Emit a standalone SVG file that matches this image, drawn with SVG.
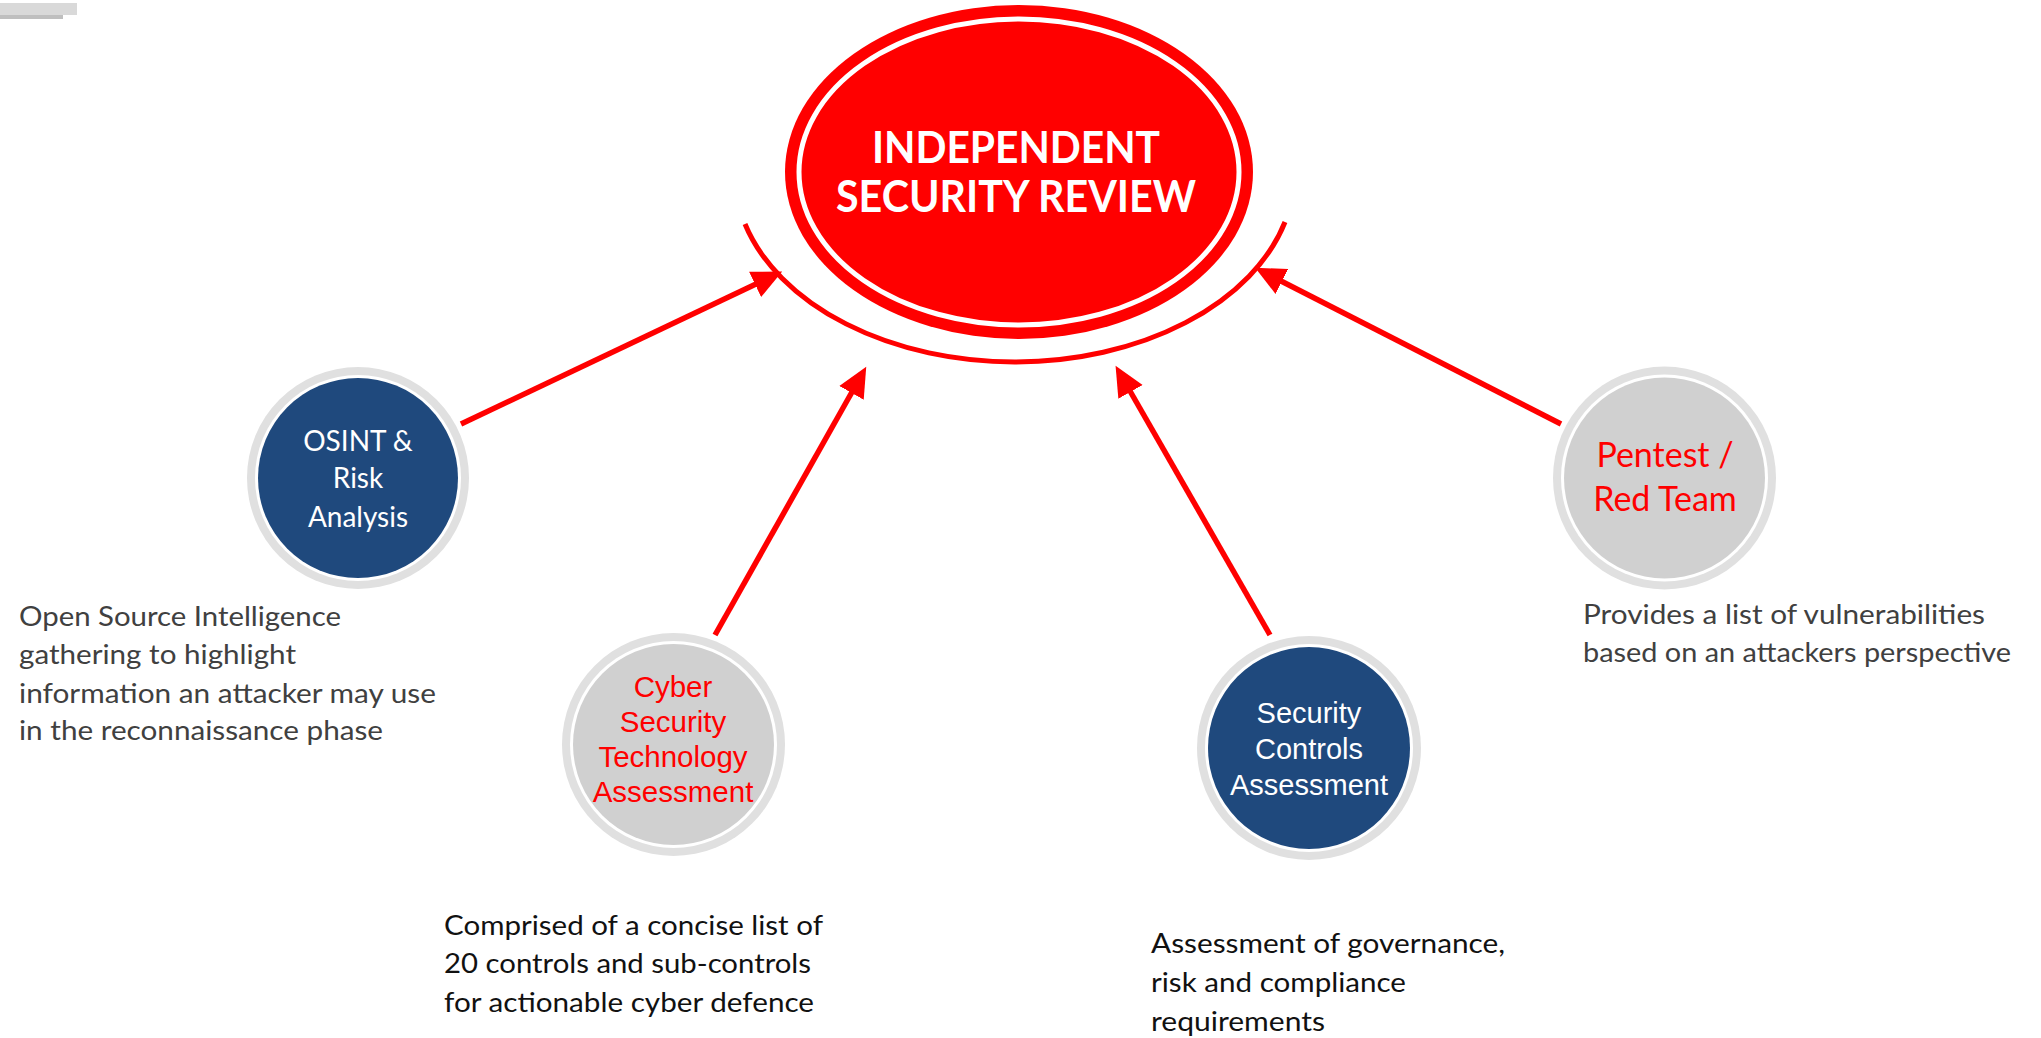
<svg xmlns="http://www.w3.org/2000/svg" width="2041" height="1038" viewBox="0 0 2041 1038">
<style>
.ring{fill:#e0e0e0}
.gap{fill:#ffffff}
.blue{fill:#1f497d}
.grey{fill:#d0d0d0}
.cal{font-family:Lato,"Open Sans","Liberation Sans",sans-serif}
.ari{font-family:"Liberation Sans",Arial,sans-serif}
.desc{font-family:Lato,"Open Sans","Liberation Sans",sans-serif;font-size:27px;fill:#404040}
.desc2{font-family:Lato,"Open Sans","Liberation Sans",sans-serif;font-size:27px;fill:#111111}
.conn{stroke:#ff0000;stroke-width:5.5;fill:none;marker-end:url(#ah)}
</style>
<defs>
<marker id="ah" markerUnits="userSpaceOnUse" viewBox="0 -15 31 30" markerWidth="31" markerHeight="30" refX="1" refY="0" orient="auto">
<path d="M0,-14 L30,0 L0,14 z" fill="#ff0000"/>
</marker>
</defs>
<rect x="0" y="3" width="77" height="12" fill="#d9d9d9"/>
<rect x="0" y="15" width="63" height="4" fill="#bfbfbf"/>

<g id="connectors">
<line class="conn" x1="461" y1="424" x2="756" y2="284"/>
<line class="conn" x1="715" y1="635" x2="852" y2="392"/>
<line class="conn" x1="1270" y1="635" x2="1130" y2="391"/>
<line class="conn" x1="1561" y1="424" x2="1281" y2="281"/>
</g>

<g id="review">
<ellipse cx="1019" cy="172" rx="234" ry="167" fill="#ff0000"/>
<ellipse cx="1019" cy="172" rx="220" ry="153" fill="none" stroke="#ffffff" stroke-width="5"/>
<path d="M745,224 A280,189 0 0 0 1285,222" fill="none" stroke="#ff0000" stroke-width="5"/>
<text class="cal" font-weight="bold" font-size="43" fill="#ffffff" text-anchor="middle" x="1016" y="163" textLength="288" lengthAdjust="spacingAndGlyphs">INDEPENDENT</text>
<text class="cal" font-weight="bold" font-size="43" fill="#ffffff" text-anchor="middle" x="1016" y="212" textLength="360" lengthAdjust="spacingAndGlyphs">SECURITY REVIEW</text>
</g>

<g id="osint">
<circle class="ring" cx="358" cy="478" r="111"/>
<circle class="gap" cx="358" cy="478" r="103"/>
<circle class="blue" cx="358" cy="478" r="100"/>
<g class="cal" font-size="28" fill="#ffffff" text-anchor="middle">
<text x="358" y="451">OSINT &amp;</text>
<text x="358" y="488">Risk</text>
<text x="358" y="527">Analysis</text>
</g>
<g class="desc">
<text x="19" y="626" textLength="322" lengthAdjust="spacingAndGlyphs">Open Source Intelligence</text>
<text x="19" y="664" textLength="277" lengthAdjust="spacingAndGlyphs">gathering to highlight</text>
<text x="19" y="703" textLength="417" lengthAdjust="spacingAndGlyphs">information an attacker may use</text>
<text x="19" y="740" textLength="364" lengthAdjust="spacingAndGlyphs">in the reconnaissance phase</text>
</g>
</g>

<g id="cyber">
<circle class="ring" cx="673.5" cy="744.5" r="111.5"/>
<circle class="gap" cx="673.5" cy="744.5" r="103.5"/>
<circle class="grey" cx="673.5" cy="744.5" r="100.5"/>
<g class="ari" font-size="29.5" fill="#ff0000" text-anchor="middle">
<text x="673" y="697">Cyber</text>
<text x="673" y="732">Security</text>
<text x="673" y="767">Technology</text>
<text x="673" y="802">Assessment</text>
</g>
<g class="desc2">
<text x="444" y="935" textLength="379" lengthAdjust="spacingAndGlyphs">Comprised of a concise list of</text>
<text x="444" y="973" textLength="367" lengthAdjust="spacingAndGlyphs">20 controls and sub-controls</text>
<text x="444" y="1012" textLength="370" lengthAdjust="spacingAndGlyphs">for actionable cyber defence</text>
</g>
</g>

<g id="controls">
<circle class="ring" cx="1309" cy="748" r="112"/>
<circle class="gap" cx="1309" cy="748" r="104"/>
<circle class="blue" cx="1309" cy="748" r="101"/>
<g class="ari" font-size="29" fill="#ffffff" text-anchor="middle">
<text x="1309" y="723">Security</text>
<text x="1309" y="759">Controls</text>
<text x="1309" y="795">Assessment</text>
</g>
<g class="desc2">
<text x="1151" y="953" textLength="354" lengthAdjust="spacingAndGlyphs">Assessment of governance,</text>
<text x="1151" y="992" textLength="255" lengthAdjust="spacingAndGlyphs">risk and compliance</text>
<text x="1151" y="1031" textLength="174" lengthAdjust="spacingAndGlyphs">requirements</text>
</g>
</g>

<g id="pentest">
<circle class="ring" cx="1664.5" cy="478" r="111.5"/>
<circle class="gap" cx="1664.5" cy="478" r="103.5"/>
<circle class="grey" cx="1664.5" cy="478" r="100.5"/>
<g class="cal" font-size="34" fill="#ff0000" text-anchor="middle">
<text x="1665" y="467">Pentest /</text>
<text x="1665" y="511">Red Team</text>
</g>
<g class="desc">
<text x="1583" y="624" textLength="402" lengthAdjust="spacingAndGlyphs">Provides a list of vulnerabilities</text>
<text x="1583" y="662" textLength="428" lengthAdjust="spacingAndGlyphs">based on an attackers perspective</text>
</g>
</g>
</svg>
